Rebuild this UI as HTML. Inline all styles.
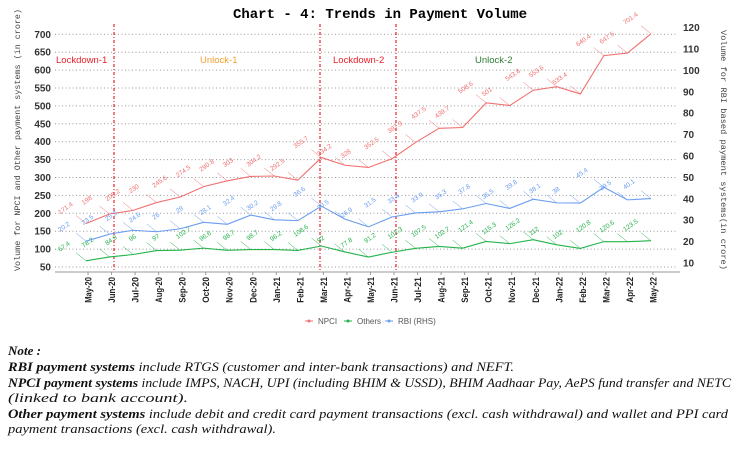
<!DOCTYPE html>
<html><head><meta charset="utf-8"><style>
html,body{margin:0;padding:0;background:#fff;}
svg{display:block;}
</style></head><body>
<svg id="s" width="739" height="452" xmlns="http://www.w3.org/2000/svg" font-family="Liberation Sans, sans-serif">
<text x="380" y="18" text-anchor="middle" font-family="Liberation Mono, monospace" font-weight="bold" font-size="14">Chart - 4: Trends in Payment Volume</text>
<g id="grid"></g>
<line x1="55" y1="272" x2="680" y2="272" stroke="#999" stroke-width="1"/>
<g stroke="#e8202a" stroke-width="1.2" stroke-dasharray="3,2,1,2">
<line x1="114" y1="24" x2="114" y2="272"/><line x1="320" y1="24" x2="320" y2="272"/><line x1="396" y1="24" x2="396" y2="272"/>
</g>
<g font-size="9.5">
<text x="56" y="63" fill="#e8202a">Lockdown-1</text>
<text x="200" y="63" fill="#f0a030">Unlock-1</text>
<text x="333" y="63" fill="#e8202a">Lockdown-2</text>
<text x="475" y="63" fill="#2e7d32">Unlock-2</text>
</g>
<text transform="translate(20,140) rotate(-90)" text-anchor="middle" font-family="Liberation Mono, monospace" font-size="8.6" fill="#444" textLength="262" lengthAdjust="spacingAndGlyphs">Volume for NPCI and Other payment systems (in crore)</text>
<text transform="translate(721,150) rotate(90)" text-anchor="middle" font-family="Liberation Mono, monospace" font-size="8.6" fill="#444" textLength="240" lengthAdjust="spacingAndGlyphs">Volume for RBI based payment systems(in crore)</text>
<g id="d"></g>
<g font-size="8" fill="#555">
<line x1="305" y1="321" x2="313" y2="321" stroke="#f07070"/><circle cx="309" cy="321" r="1.5" fill="#f07070"/><text x="318" y="324">NPCI</text>
<line x1="344" y1="321" x2="352" y2="321" stroke="#22b34a"/><circle cx="348" cy="321" r="1.5" fill="#22b34a"/><text x="357" y="324">Others</text>
<line x1="385" y1="321" x2="393" y2="321" stroke="#6a9cf0"/><circle cx="389" cy="321" r="1.5" fill="#6a9cf0"/><text x="398" y="324">RBI (RHS)</text>
</g>
<g font-family="Liberation Serif, serif" font-style="italic" font-size="13" fill="#111">
<text x="8" y="355" font-weight="bold" textLength="33" lengthAdjust="spacingAndGlyphs">Note :</text>
<text x="8" y="371" textLength="506" lengthAdjust="spacingAndGlyphs"><tspan font-weight="bold">RBI payment systems</tspan> include RTGS (customer and inter-bank transactions) and NEFT.</text>
<text x="8" y="387" textLength="723" lengthAdjust="spacingAndGlyphs"><tspan font-weight="bold">NPCI payment systems</tspan> include IMPS, NACH, UPI (including BHIM &amp; USSD), BHIM Aadhaar Pay, AePS fund transfer and NETC</text>
<text x="8" y="402" textLength="180" lengthAdjust="spacingAndGlyphs">(linked to bank account).</text>
<text x="8" y="418" textLength="720" lengthAdjust="spacingAndGlyphs"><tspan font-weight="bold">Other payment systems</tspan> include debit and credit card payment transactions (excl. cash withdrawal) and wallet and PPI card</text>
<text x="8" y="433" textLength="268" lengthAdjust="spacingAndGlyphs">payment transactions (excl. cash withdrawal).</text>
</g>
</svg>
<script>
var NS="http://www.w3.org/2000/svg";
function el(p,t,a,txt){var e=document.createElementNS(NS,t);for(var k in a)e.setAttribute(k,a[k]);if(txt!=null)e.textContent=txt;p.appendChild(e);return e;}
var g=document.getElementById('grid'),d=document.getElementById('d');
function yL(v){return 267-(v-50)/50*17.9;}
function yR(v){return 263-(v-10)/10*21.4;}
function xM(i){return 88+i*23.54;}
for(var v=50;v<=700;v+=50){var y=yL(v);el(g,'line',{x1:55,y1:y,x2:677,y2:y,stroke:'#999','stroke-dasharray':'1,2.5','stroke-width':1});
el(g,'text',{x:51,y:y+3.5,'text-anchor':'end','font-size':10,'font-weight':'bold',fill:'#333'},String(v));}
for(var v=10;v<=120;v+=10){el(g,'text',{x:683,y:yR(v)+3.5,'font-size':10,'font-weight':'bold',fill:'#333'},String(v));}
var mons=["May-20","Jun-20","Jul-20","Aug-20","Sep-20","Oct-20","Nov-20","Dec-20","Jan-21","Feb-21","Mar-21","Apr-21","May-21","Jun-21","Jul-21","Aug-21","Sep-21","Oct-21","Nov-21","Dec-21","Jan-22","Feb-22","Mar-22","Apr-22","May-22"];
mons.forEach(function(m,i){var x=xM(i);el(g,'line',{x1:x,y1:272,x2:x,y2:275,stroke:'#999'});
el(g,'text',{transform:'translate('+(x+3.5)+',277) rotate(-90)','text-anchor':'end','font-size':9,fill:'#222','font-weight':'bold',textLength:m.length*4.3,lengthAdjust:'spacingAndGlyphs'},m);});
var npci=[171.4,198,208.2,230,245.6,274.5,290.8,303,304.2,292.5,355.7,334.2,328,352.5,397.9,437.5,439.7,508.6,501,543.8,553.6,533.4,640.4,647.5,701.4];
var oth=[67.4,78.2,84.9,96,97,102.7,96.6,98.7,98.7,96.2,108.6,92,77.8,91.2,102.3,107.5,102.7,121.4,115.3,126.2,112,102,120.8,120.6,123.5];
var rbi=[20.2,23.5,25.3,24.6,26,29,28.1,32.4,30.2,29.8,36.6,30.5,26.9,31.5,33.4,33.9,35.3,37.8,35.5,39.8,38.1,38,45.4,39.5,40.1];
function series(data,fy,col){var pts=data.map(function(v,i){return xM(i)-2+','+fy(v);}).join(' ');
el(d,'polyline',{points:pts,fill:'none',stroke:col,'stroke-width':1.1});
data.forEach(function(v,i){var x=xM(i)-2,y=fy(v);el(d,'line',{x1:x,y1:y,x2:x-10,y2:y-8,stroke:col,'stroke-width':0.5});
el(d,'text',{transform:'translate('+(x-26)+','+(y-9)+') rotate(-35)','font-size':6.5,fill:col},String(v));});}
series(npci,yL,'#f07070');series(oth,yL,'#22b34a');series(rbi,yR,'#6a9cf0');
</script>
</body></html>
